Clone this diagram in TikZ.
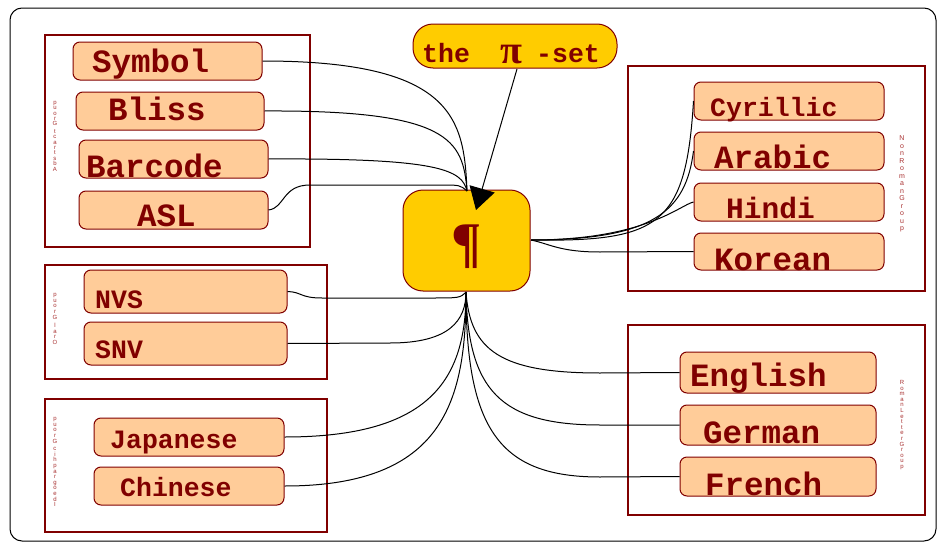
\documentclass[tikz,border=0pt]{standalone}
\usepackage{fontspec}
\usetikzlibrary{arrows.meta}
\newfontfamily\monob{Liberation Mono}
\newfontfamily\serifb{Liberation Serif}
\newfontfamily\sansl{Liberation Sans}
\definecolor{dred}{HTML}{800000}
\definecolor{peach}{HTML}{FFCC99}
\definecolor{gold}{HTML}{FFCC00}
\definecolor{lblred}{HTML}{A83030}
\tikzset{
  grp/.style={draw=dred, line width=1.3pt, minimum width=#1},
  itembox/.style={draw=dred, fill=peach, rounded corners=7pt, line width=1pt, inner sep=0},
  big/.style={font=\monob\bfseries\fontsize{32.5}{33}\selectfont, text=dred, anchor=base west, inner sep=0},
  mid/.style={font=\monob\bfseries\fontsize{29.5}{30}\selectfont, text=dred, anchor=base west, inner sep=0},
  small/.style={font=\monob\bfseries\fontsize{26.5}{27}\selectfont, text=dred, anchor=base west, inner sep=0},
  stack/.style={font=\sansl\fontsize{6}{#1}\selectfont, text=lblred, align=center, inner sep=0},
  conn/.style={draw=black, line width=1pt},
}
\begin{document}
\begin{tikzpicture}[x=1pt,y=-1pt]
\useasboundingbox (0,0) rectangle (943,546);
\draw[black, line width=1pt, rounded corners=12pt] (10,8) rectangle (936,541);

% group frames
\node[grp=265, minimum height=212] (g1) at (177.5,141) {};
\node[grp=282, minimum height=114] (g2) at (186,322) {};
\node[grp=282, minimum height=133] (g3) at (186,465.5) {};
\node[grp=297, minimum height=225] (g4) at (776.5,178.5) {};
\node[grp=297, minimum height=190] (g5) at (776.5,420) {};

% group labels
\node[stack=5.4] (l1) at (55,136) {p\\u\\o\\r\\G\\[2pt]t\\c\\a\\r\\t\\s\\b\\A};
\node[stack=5.8] (l2) at (55,319) {p\\u\\o\\r\\G\\[2pt]l\\a\\r\\O};
\node[stack=5.6] (l3) at (55,462) {p\\u\\o\\r\\G\\[2pt]c\\i\\h\\p\\a\\r\\g\\o\\e\\d\\I};
\node[stack=7.5, font=\sansl\fontsize{7}{7.5}\selectfont] (l4) at (902,184) {N\\o\\n\\R\\o\\m\\a\\n\\G\\r\\o\\u\\p};
\node[stack=5.6] (l5) at (902,425) {R\\o\\m\\a\\n\\L\\e\\t\\t\\e\\r\\G\\r\\o\\u\\p};

% item boxes
\node[itembox, minimum width=189, minimum height=38] (sym) at (167.5,61) {};
\node[itembox, minimum width=188, minimum height=38] (bli) at (170,111) {};
\node[itembox, minimum width=189, minimum height=38] (bar) at (173.5,159) {};
\node[itembox, minimum width=189, minimum height=38] (asl) at (173.5,210) {};
\node[itembox, minimum width=203, minimum height=43] (nvs) at (185.5,291.5) {};
\node[itembox, minimum width=203, minimum height=43] (snv) at (185.5,343.5) {};
\node[itembox, minimum width=190, minimum height=38] (jap) at (189,437) {};
\node[itembox, minimum width=190, minimum height=38] (chi) at (189,486) {};
\node[itembox, minimum width=190, minimum height=38] (cyr) at (789,101) {};
\node[itembox, minimum width=190, minimum height=38] (ara) at (789,151) {};
\node[itembox, minimum width=190, minimum height=38] (hin) at (789,202) {};
\node[itembox, minimum width=190, minimum height=37] (kor) at (789,251.5) {};
\node[itembox, minimum width=196, minimum height=41] (eng) at (778,372.5) {};
\node[itembox, minimum width=196, minimum height=40] (ger) at (778,425) {};
\node[itembox, minimum width=196, minimum height=39] (fre) at (778,476.5) {};

% texts
\node[big] (tsym) at (92,72) {Symbol};
\node[big] (tbli) at (108,120) {Bliss};
\node[big] (tbar) at (86,177) {Barcode};
\node[big] (tasl) at (137,226) {ASL};
\node[small] (tnvs) at (95,308) {NVS};
\node[small] (tsnv) at (95,358) {SNV};
\node[small] (tjap) at (110,448) {Japanese};
\node[small] (tchi) at (120,496) {Chinese};
\node[small] (tcyr) at (710,116) {Cyrillic};
\node[big] (tara) at (714,168) {Arabic};
\node[mid] (thin) at (726,218) {Hindi};
\node[big] (tkor) at (714,270) {Korean};
\node[big] (teng) at (690,386) {English};
\node[big] (tger) at (703,443) {German};
\node[big] (tfre) at (705,495) {French};

% center and pi-set
\node[draw=dred, fill=gold, line width=1pt, rounded corners=20pt, minimum width=127, minimum height=101, inner sep=0] (cen) at (466.5,240.5) {};
\node[text=dred, font=\serifb\bfseries\fontsize{56}{56}\selectfont, inner sep=0] (pil) at (467,247) {¶};
\node[draw=dred, fill=gold, line width=1pt, rounded corners=20pt, minimum width=204, minimum height=44, inner sep=0] (pi) at (515,46) {};
\node[small] (tthe) at (422,62) {the};
\node[text=dred, font=\serifb\bfseries\fontsize{40}{40}\selectfont, anchor=base west, inner sep=0] (tpi) at (500,63) {π};
\node[small] (tset) at (536,62) {-set};

\coordinate (ctop) at (467,191);
\coordinate (cbot) at (466,292);
\coordinate (cright) at (531,240);
\coordinate (piout) at (517,69);
\coordinate (ptip) at (476,210);

% connectors
\draw[conn, -{Triangle[length=22pt,width=26pt]}] (piout) -- (ptip);
\draw[conn] (sym.east) .. controls (455,61) and (464,120) .. (ctop);
\draw[conn] (bli.east) .. controls (450,110) and (463,140) .. (ctop);
\draw[conn] (bar.east) .. controls (440,158) and (462,170) .. (ctop);
\draw[conn] (asl.east) .. controls (285,208) and (282,185) .. (310,185) -- (440,185) .. controls (460,185) .. (ctop);
\draw[conn] (nvs.east) .. controls (302,292) and (300,298) .. (322,298) -- (430,298) .. controls (460,298) .. (cbot);
\draw[conn] (snv.east) -- (390,343) .. controls (450,343) and (466,320) .. (cbot);
\draw[conn] (jap.east) .. controls (430,437) and (466,380) .. (cbot);
\draw[conn] (chi.east) .. controls (445,486) and (466,400) .. (cbot);
\draw[conn] (cbot) .. controls (470,350) and (500,373) .. (600,373) -- (eng.west);
\draw[conn] (cbot) .. controls (468,390) and (500,425) .. (600,425) -- (ger.west);
\draw[conn] (cbot) .. controls (466,430) and (500,477) .. (600,477) -- (fre.west);
\draw[conn] (cright) .. controls (660,242) and (686,225) .. (cyr.west);
\draw[conn] (cright) .. controls (655,240) and (686,210) .. (ara.west);
\draw[conn] (cright) .. controls (645,240) and (680,205) .. (hin.west);
\draw[conn] (cright) .. controls (550,244) and (560,252) .. (600,252) -- (kor.west);
\end{tikzpicture}
\end{document}
